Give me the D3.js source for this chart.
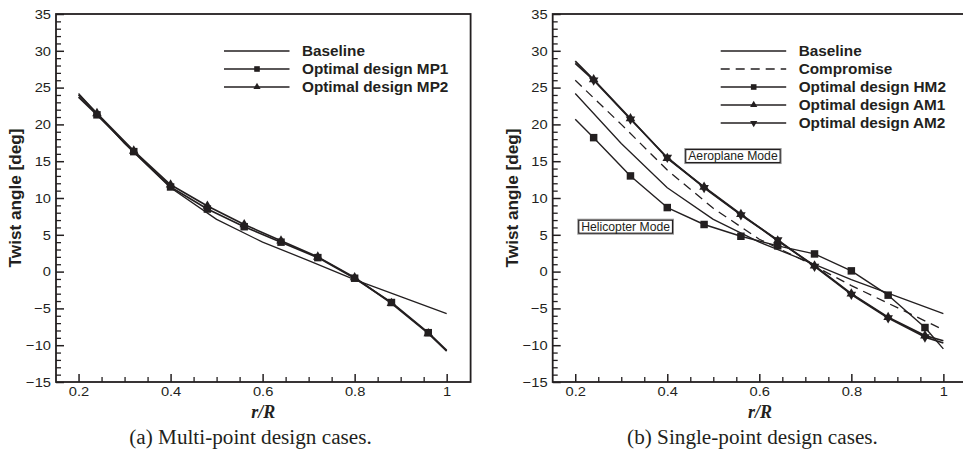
<!DOCTYPE html>
<html>
<head>
<meta charset="utf-8">
<script src="https://cdn.jsdelivr.net/npm/d3@7"></script>
<style>
body{margin:0;background:#fff}
svg{display:block}
</style>
</head>
<body>
<svg id="svg" width="963" height="451"></svg>
<script>

// twist distributions
var rBase=[0.2,0.3,0.4,0.5,0.6,0.7,0.8,0.9,1.0];
var baseline=[24.2,17.4,11.4,7.1,4.0,1.5,-1.1,-3.4,-5.7];
var compromise=[26.0,20.0,13.8,8.6,4.4,1.4,-1.9,-4.9,-7.9];

var rOpt=[0.2,0.24,0.32,0.40,0.48,0.56,0.64,0.72,0.80,0.88,0.96,1.0];
var mp1=[23.7,21.3,16.3,11.5,8.5,6.1,4.0,1.9,-0.9,-4.2,-8.3,-10.7];
var mp2=[24.0,21.5,16.4,11.8,8.9,6.4,4.2,2.0,-0.8,-4.3,-8.4,-10.8];
var hm2=[20.7,18.2,13.0,8.7,6.4,4.8,3.5,2.4,0.1,-3.2,-7.6,-10.5];
var am1=[28.6,26.1,20.8,15.4,11.5,7.8,4.2,0.8,-3.0,-6.2,-8.7,-9.4];
var am2=[28.3,26.0,20.7,15.5,11.4,7.7,4.3,0.7,-3.1,-6.3,-8.9,-9.7];

var xTicks=[0.2,0.4,0.6,0.8,1];
var xMinor=[0.25,0.3,0.35,0.45,0.5,0.55,0.65,0.7,0.75,0.85,0.9,0.95];
var yTicks=[-15,-10,-5,0,5,10,15,20,25,30,35];

var ink="#231f20";
var svg=d3.select("#svg");

var panels=[
 {left:56, captionX:250.5, caption:"(a) Multi-point design cases.",
  series:[
   {name:"Baseline", r:rBase, v:baseline, w:1.3},
   {name:"Optimal design MP1", r:rOpt, v:mp1, w:1.7, marker:"square"},
   {name:"Optimal design MP2", r:rOpt, v:mp2, w:1.7, marker:"up"}
  ],
  legendX:224, notes:[]},
 {left:552.7, captionX:752.5, caption:"(b) Single-point design cases.",
  series:[
   {name:"Baseline", r:rBase, v:baseline, w:1.3},
   {name:"Compromise", r:rBase, v:compromise, w:1.3, dash:"9,6"},
   {name:"Optimal design HM2", r:rOpt, v:hm2, w:1.4, marker:"square"},
   {name:"Optimal design AM1", r:rOpt, v:am1, w:1.7, marker:"up"},
   {name:"Optimal design AM2", r:rOpt, v:am2, w:1.7, marker:"down"}
  ],
  legendX:720.7,
  notes:[{text:"Aeroplane Mode", r:0.439, y:15.7},{text:"Helicopter Mode", r:0.2065, y:6.1}]}
];

var plotW=414.6, plotTop=14, plotBottom=382;

function stretch(sel,k){
  sel.each(function(){
    var w=this.getComputedTextLength();
    d3.select(this).attr("textLength",w*k).attr("lengthAdjust","spacingAndGlyphs");
  });
}

function markerPath(type){
  if(type=="square") return d3.symbol(d3.symbolSquare,56)();
  return d3.symbol(d3.symbolTriangle,40)();
}

panels.forEach(function(p){
  var x=d3.scaleLinear().domain([0.151,1.052]).range([p.left,p.left+plotW]);
  var y=d3.scaleLinear().domain([-15,35]).range([plotBottom,plotTop]);

  // minor ticks
  svg.append("g").attr("transform","translate(0,"+plotBottom+")")
     .call(d3.axisBottom(x).tickValues(xMinor).tickSize(-5).tickSizeOuter(0).tickFormat(""))
     .call(function(g){g.select(".domain").remove(); g.selectAll("line").attr("stroke",ink).attr("stroke-width",1.3);});
  svg.append("g").attr("transform","translate("+p.left+",0)")
     .call(d3.axisLeft(y).tickValues(d3.range(-15,36).filter(function(d){return d%5!=0;})).tickSize(-5).tickSizeOuter(0).tickFormat(""))
     .call(function(g){g.select(".domain").remove(); g.selectAll("line").attr("stroke",ink).attr("stroke-width",1.3);});

  // major ticks + labels
  var xa=svg.append("g").attr("transform","translate(0,"+plotBottom+")")
     .call(d3.axisBottom(x).tickValues(xTicks).tickSize(-8).tickSizeOuter(0).tickPadding(4).tickFormat(d3.format("")));
  var ya=svg.append("g").attr("transform","translate("+p.left+",0)")
     .call(d3.axisLeft(y).tickValues(yTicks).tickSize(-8).tickSizeOuter(0).tickPadding(5));
  [xa,ya].forEach(function(a){
    a.select(".domain").remove();
    a.selectAll("line").attr("stroke",ink).attr("stroke-width",1.5);
    a.selectAll("text").attr("fill",ink).style("font-family","'Liberation Sans',Arial,sans-serif").style("font-size","13.6px");
    stretch(a.selectAll("text"),1.08);
  });

  svg.append("rect").attr("x",p.left).attr("y",plotTop).attr("width",plotW).attr("height",plotBottom-plotTop)
     .attr("fill","none").attr("stroke",ink).attr("stroke-width",1.8);

  // lines
  var line=d3.line().x(function(d){return x(d[0]);}).y(function(d){return y(d[1]);});
  p.series.forEach(function(s){
    var pts=s.r.map(function(r,i){return [r,s.v[i]];});
    svg.append("path").datum(pts).attr("d",line).attr("fill","none")
       .attr("stroke",ink).attr("stroke-width",s.w).attr("stroke-dasharray",s.dash||null)
       .attr("stroke-linejoin","round");
    if(s.marker){
      svg.append("g").selectAll("path").data(pts.filter(function(d,i){return i>0&&i<pts.length-1;})).enter()
         .append("path").attr("d",markerPath(s.marker)).attr("fill",ink)
         .attr("transform",function(d){return "translate("+x(d[0])+","+y(d[1])+")"+(s.marker=="down"?" rotate(180)":"");});
    }
  });

  // legend
  var lg=svg.append("g");
  p.series.forEach(function(s,i){
    var ly=51+i*18;
    lg.append("line").attr("x1",p.legendX).attr("x2",p.legendX+65.5).attr("y1",ly).attr("y2",ly)
      .attr("stroke",ink).attr("stroke-width",1.4).attr("stroke-dasharray",s.dash||null);
    if(s.marker){
      lg.append("path").attr("d",markerPath(s.marker)).attr("fill",ink)
        .attr("transform","translate("+(p.legendX+33)+","+ly+")"+(s.marker=="down"?" rotate(180)":"")+" scale(0.75)");
    }
    lg.append("text").attr("x",p.legendX+78).attr("y",ly+5).text(s.name)
      .attr("fill",ink).style("font-family","'Liberation Sans',Arial,sans-serif").style("font-weight","bold").style("font-size","13.8px");
  });
  stretch(lg.selectAll("text"),1.11);

  // notes
  p.notes.forEach(function(n){
    var ng=svg.append("g");
    var t=ng.append("text").attr("x",x(n.r)+3).attr("y",y(n.y)+4.4).text(n.text)
      .attr("fill",ink).style("font-family","'Liberation Sans',Arial,sans-serif").style("font-size","12.2px");
    var w=t.node().getComputedTextLength();
    ng.insert("rect",":first-child").attr("x",x(n.r)-0.5).attr("y",y(n.y)-7.5).attr("width",w+7).attr("height",15)
       .attr("fill","#fff").attr("stroke","#999").attr("stroke-width",1);
    ng.append("rect").attr("x",x(n.r)+0.5).attr("y",y(n.y)-6.5).attr("width",w+5).attr("height",13)
       .attr("fill","none").attr("stroke",ink).attr("stroke-width",1.2);
  });

  // axis titles and caption
  var yt=svg.append("text").attr("transform","translate("+(p.left-35)+","+((plotTop+plotBottom)/2)+") rotate(-90)")
     .attr("text-anchor","middle").text("Twist angle [deg]")
     .attr("fill",ink).style("font-family","'Liberation Sans',Arial,sans-serif").style("font-weight","bold").style("font-size","15.6px");
  stretch(yt,1.1);
  svg.append("text").attr("x",(p.left+p.left+plotW)/2).attr("y",418).attr("text-anchor","middle").text("r/R")
     .attr("fill",ink).style("font-family","'Liberation Serif','Times New Roman',serif").style("font-weight","bold").style("font-style","italic").style("font-size","18px");
  var cp=svg.append("text").attr("x",p.captionX).attr("y",444).attr("text-anchor","middle").text(p.caption)
     .attr("fill",ink).style("font-family","'Liberation Serif','Times New Roman',serif").style("font-size","20px");
  stretch(cp,1.06);
});

</script>
</body>
</html>
